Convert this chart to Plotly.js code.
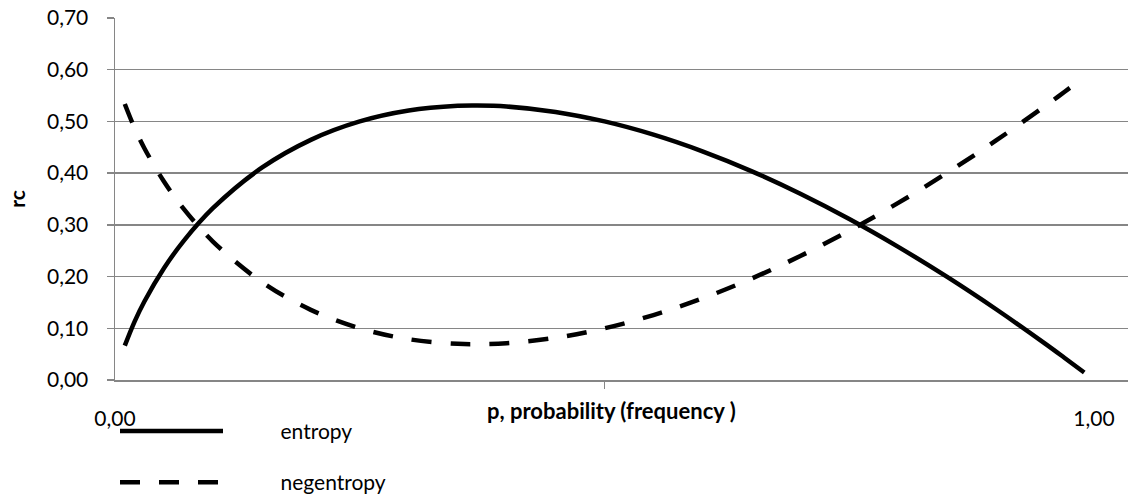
<!DOCTYPE html>
<html>
<head>
<meta charset="utf-8">
<script src="https://cdn.plot.ly/plotly-3.0.1.min.js"></script>
<style>html,body{margin:0;padding:0;background:#fff;}#chart{width:1128px;height:496px;}</style>
</head>
<body>
<div id="chart"></div>
<script>
var p = [0.01,0.02,0.03,0.05,0.07,0.10,0.15,0.20,0.25,0.30,0.35,0.37,0.40,0.45,0.50,0.55,0.60,0.65,0.70,0.75,0.80,0.85,0.90,0.95,0.97,0.99];
var entropy = [0.0664,0.1129,0.1518,0.2161,0.2686,0.3322,0.4105,0.4644,0.5000,0.5211,0.5301,0.5307,0.5288,0.5184,0.5000,0.4744,0.4422,0.4040,0.3602,0.3113,0.2575,0.1993,0.1368,0.0703,0.0426,0.0144];
var negentropy = [0.5336,0.4871,0.4482,0.3839,0.3314,0.2678,0.1895,0.1356,0.1000,0.0789,0.0699,0.0693,0.0712,0.0816,0.1000,0.1256,0.1578,0.1960,0.2398,0.2887,0.3425,0.4007,0.4632,0.5297,0.5574,0.5856];
var seriesNames = ["entropy","negentropy"];
var xTitle = "p, probability (frequency )";
var yTitle = "rc";

var FONT = "Lato, Carlito, Calibri, 'Open Sans', sans-serif";
var GAP = "\u2003\u2003\u2002\u2002";
var traces = [
  {x:p, y:entropy, name:GAP+seriesNames[0], legendgroup:"a", type:"scatter", mode:"lines", line:{color:"#000", width:4.5, shape:"spline"}},
  {x:p, y:negentropy, name:GAP+seriesNames[1], legendgroup:"b", type:"scatter", mode:"lines", line:{color:"#000", width:4.5, dash:"20px,19px", shape:"spline"}}
];
var layout = {
  width:1128, height:496,
  margin:{l:115, r:0, t:18, b:116, autoexpand:false},
  separators:", ",
  paper_bgcolor:"#fff", plot_bgcolor:"#fff",
  font:{family:FONT, size:21, color:"#000"},
  showlegend:true,
  legend:{x:0, xanchor:"left", y:-0.085, yanchor:"top", orientation:"v", traceorder:"grouped", tracegroupgap:21,
          itemwidth:103, font:{size:21}, bgcolor:"rgba(0,0,0,0)"},
  xaxis:{
    range:[0,1.0347], tickvals:[0,1], tickformat:".2f", ticks:"", showgrid:false, automargin:false,
    showline:true, linecolor:"#868686", linewidth:1.5, zeroline:false,
    ticklabelstandoff:19, tickfont:{size:21},
    minor:{tickvals:[0.5], ticks:"outside", ticklen:7, tickcolor:"#868686", tickwidth:1.5, showgrid:false}
  },
  yaxis:{
    range:[0,0.7], dtick:0.1, tick0:0, tickformat:".2f", ticks:"outside", ticklen:7, tickcolor:"#868686", tickwidth:1.5,
    showgrid:true, gridcolor:"#868686", gridwidth:1.5, showline:true, linecolor:"#868686", linewidth:1.5, zeroline:false, automargin:false,
    ticklabelstandoff:14, tickfont:{size:21},
    title:{text:"<b>"+yTitle+"</b>", font:{size:21}, standoff:15}
  },
  annotations:[
    {text:"<b>"+xTitle+"</b>", xref:"paper", yref:"paper", x:0.49, y:-0.085, xanchor:"center", yanchor:"middle", showarrow:false, font:{size:22}}
  ]
};
Plotly.newPlot("chart", traces, layout, {displayModeBar:false, staticPlot:true});
</script>
</body>
</html>
